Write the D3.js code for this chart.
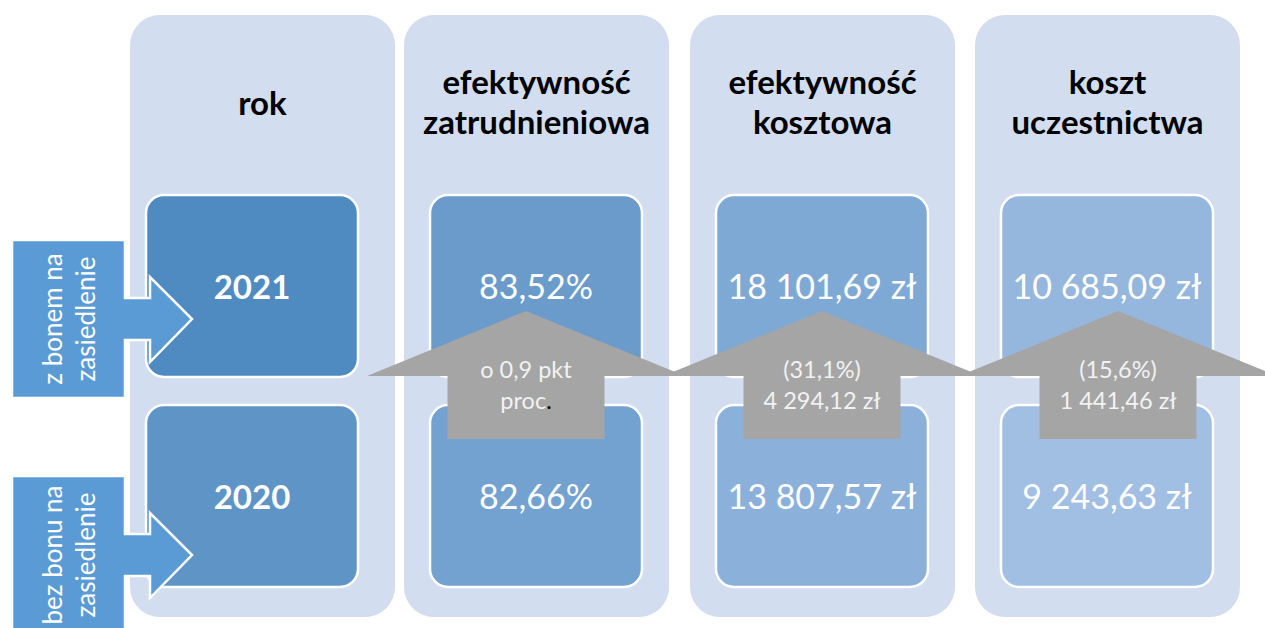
<!DOCTYPE html>
<html><head><meta charset="utf-8">
<script src="https://cdn.jsdelivr.net/npm/d3@7"></script>
<style>html,body{margin:0;padding:0;background:#fff;overflow:hidden}svg{display:block}</style>
</head><body>
<svg id="c" width="1265" height="628"></svg>
<script>
// ---- data ----
const columns = ["rok", "efektywność zatrudnieniowa", "efektywność kosztowa", "koszt uczestnictwa"];
const headerLines = [["rok"], ["efektywność", "zatrudnieniowa"], ["efektywność", "kosztowa"], ["koszt", "uczestnictwa"]];
const years = ["2021", "2020"];
const groupLabels = [["z bonem na", "zasiedlenie"], ["bez bonu na", "zasiedlenie"]];
const effEmployment = [83.52, 82.66];      // %
const effCost = [18101.69, 13807.57];      // zł
const costParticipation = [10685.09, 9243.63]; // zł
const changeKeys = ["zatrudnieniowa", "kosztowa", "uczestnictwa"];
const changePct = [0.9, 31.1, 15.6];
const changeAbs = [null, 4294.12, 1441.46];

// ---- formatting (Polish) ----
const pl = d3.formatLocale({decimal: ",", thousands: " ", grouping: [3], currency: ["", " zł"]});
const fPct = v => pl.format(".2f")(v) + "%";
const fZl = v => pl.format(",.2f")(v) + " zł";
const f1 = pl.format(".1f");

const cells = [
  years.map(y => ({text: y, bold: true})),
  effEmployment.map(v => ({text: fPct(v)})),
  effCost.map(v => ({text: fZl(v)})),
  costParticipation.map(v => ({text: fZl(v)}))
];
const changeLines = [
  [{t: "o " + f1(changePct[0]) + " pkt"}, {t: "proc", dot: true}],
  [{t: "(" + f1(changePct[1]) + "%)"}, {t: fZl(changeAbs[1])}],
  [{t: "(" + f1(changePct[2]) + "%)"}, {t: fZl(changeAbs[2])}]
];

const boxColors = [["#4F8BC0", "#5F94C7"], ["#6A9BCB", "#73A2D1"], ["#7FA9D5", "#8BB1DB"], ["#95B7DE", "#A1BEE3"]];

// ---- scales ----
const colX = d3.scaleOrdinal().domain(columns).range([130, 404, 690, 975]);
const colW = 265;
const boxX = d3.scaleOrdinal().domain(columns).range([146, 430, 716, 1001]);
const boxW = 212;
const rowY = d3.scaleBand().domain(years).range([195, 587]).paddingInner(0.1333);
const arrowX = d3.scalePoint().domain(changeKeys).range([526, 1118]);
const calloutY = d3.scaleOrdinal().domain(years).range([319, 555]);

const svg = d3.select("#c");
const FONT = "Lato, 'Open Sans', sans-serif";

// background columns
svg.selectAll("rect.bg").data(columns).join("rect")
  .attr("class", "bg")
  .attr("x", d => colX(d)).attr("y", 15)
  .attr("width", colW).attr("height", 602)
  .attr("rx", 30).attr("ry", 30)
  .attr("fill", "#D2DEEF");

// headers
const hdr = svg.selectAll("text.hdr").data(columns).join("text")
  .attr("class", "hdr")
  .attr("text-anchor", "middle")
  .attr("font-family", FONT).attr("font-weight", 700).attr("font-size", 33)
  .attr("fill", "#000");
hdr.each(function(d, i) {
  const lines = headerLines[i];
  const base = lines.length === 1 ? 115 : 94;
  d3.select(this).selectAll("tspan").data(lines).join("tspan")
    .attr("x", colX(d) + colW / 2)
    .attr("y", (l, j) => base + j * 40)
    .text(l => l);
});

// boxes
columns.forEach((c, ci) => {
  const g = svg.append("g");
  g.selectAll("rect").data(years).join("rect")
    .attr("x", boxX(c)).attr("y", y => rowY(y))
    .attr("width", boxW).attr("height", rowY.bandwidth())
    .attr("rx", 18).attr("ry", 18)
    .attr("fill", (y, ri) => boxColors[ci][ri])
    .attr("stroke", "#fff").attr("stroke-width", 2.5);
  g.selectAll("text").data(cells[ci]).join("text")
    .attr("x", boxX(c) + boxW / 2)
    .attr("y", (d, ri) => rowY(years[ri]) + 104)
    .attr("text-anchor", "middle")
    .attr("font-family", FONT)
    .attr("font-weight", d => d.bold ? 700 : 400)
    .attr("font-size", d => d.bold ? 33 : 34)
    .attr("fill", "#fff")
    .text(d => d.text);
});

// left callouts (right arrow callouts)
function calloutPath(cy) {
  const p = d3.path();
  p.moveTo(12, cy - 79);
  p.lineTo(125, cy - 79);
  p.lineTo(125, cy - 21);
  p.lineTo(150, cy - 21);
  p.lineTo(150, cy - 42);
  p.lineTo(192, cy);
  p.lineTo(150, cy + 43);
  p.lineTo(150, cy + 21);
  p.lineTo(125, cy + 21);
  p.lineTo(125, cy + 79);
  p.lineTo(12, cy + 79);
  p.closePath();
  return p.toString();
}
svg.selectAll("path.callout").data(years).join("path")
  .attr("class", "callout")
  .attr("d", y => calloutPath(calloutY(y)))
  .attr("fill", "#5B9BD5")
  .attr("stroke", "#fff").attr("stroke-width", 2.5).attr("stroke-linejoin", "miter");

svg.selectAll("text.grp").data(years).join("text")
  .attr("class", "grp")
  .attr("transform", y => `translate(68,${calloutY(y)}) rotate(-90)`)
  .attr("text-anchor", "middle")
  .attr("font-family", FONT).attr("font-size", 26)
  .attr("fill", "#fff")
  .each(function(y, i) {
    d3.select(this).selectAll("tspan").data(groupLabels[i]).join("tspan")
      .attr("x", 0).attr("y", (l, j) => -6 + j * 33)
      .text(l => l);
  });

// gray up arrows
function upArrow(cx) {
  const p = d3.path();
  p.moveTo(cx, 311);
  p.lineTo(cx + 159, 376);
  p.lineTo(cx + 78.5, 376);
  p.lineTo(cx + 78.5, 439);
  p.lineTo(cx - 78.5, 439);
  p.lineTo(cx - 78.5, 376);
  p.lineTo(cx - 159, 376);
  p.closePath();
  return p.toString();
}
svg.selectAll("path.up").data(changeKeys).join("path")
  .attr("class", "up")
  .attr("d", k => upArrow(arrowX(k)))
  .attr("fill", "#A5A5A5");

changeKeys.forEach((k, i) => {
  const t = svg.append("text")
    .attr("text-anchor", "middle")
    .attr("font-family", FONT).attr("font-size", 23.5)
    .attr("fill", "#F2F2F2");
  changeLines[i].forEach((ln, j) => {
    t.append("tspan").attr("x", arrowX(k)).attr("y", 378 + j * 31).text(ln.t);
    if (ln.dot) t.append("tspan").attr("fill", "#000").text(".");
  });
});
</script>
</body></html>
